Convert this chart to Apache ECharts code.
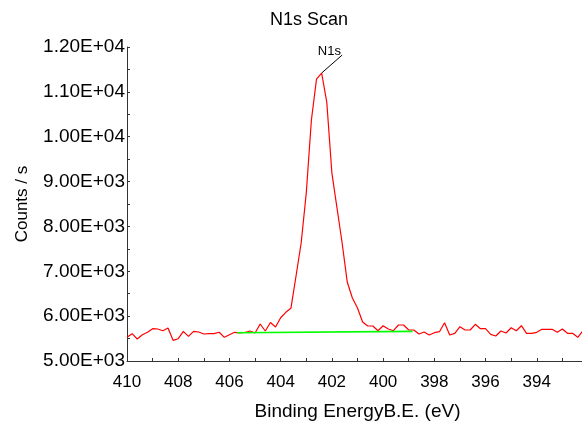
<!DOCTYPE html>
<html>
<head>
<meta charset="utf-8">
<script src="https://cdn.jsdelivr.net/npm/echarts@6/dist/echarts.min.js"></script>
<style>
html,body{margin:0;padding:0;background:#fff;}
#chart{width:582px;height:424px;}
</style>
</head>
<body>
<div id="chart"></div>
<script>
const titleText = 'N1s Scan';
const xAxisName = 'Binding EnergyB.E. (eV)';
const yAxisName = 'Counts / s';
const peakLabel = 'N1s';

const energies = [
  410.0, 409.8, 409.6, 409.4, 409.2, 409.0, 408.8, 408.6, 408.4, 408.2,
  408.0, 407.8, 407.6, 407.4, 407.2, 407.0, 406.8, 406.6, 406.4, 406.2,
  406.0, 405.8, 405.6, 405.4, 405.2, 405.0, 404.8, 404.6, 404.4, 404.2,
  404.0, 403.8, 403.6, 403.4, 403.2, 403.0, 402.8, 402.6, 402.4, 402.2,
  402.0, 401.8, 401.6, 401.4, 401.2, 401.0, 400.8, 400.6, 400.4, 400.2,
  400.0, 399.8, 399.6, 399.4, 399.2, 399.0, 398.8, 398.6, 398.4, 398.2,
  398.0, 397.8, 397.6, 397.4, 397.2, 397.0, 396.8, 396.6, 396.4, 396.2,
  396.0, 395.8, 395.6, 395.4, 395.2, 395.0, 394.8, 394.6, 394.4, 394.2,
  394.0, 393.8, 393.6, 393.4, 393.2, 393.0, 392.8, 392.6, 392.4, 392.2
];
const counts = [
  5528, 5609, 5490, 5586, 5640, 5720, 5713, 5675, 5735, 5461,
  5497, 5662, 5550, 5662, 5646, 5602, 5609, 5609, 5640, 5528,
  5586, 5640, 5624, 5635, 5669, 5624, 5825, 5669, 5858, 5758,
  5965, 6085, 6175, 6895, 7630, 8745, 10372, 11286, 11420, 10773,
  9190, 8410, 7630, 6760, 6404, 6181, 5870, 5780, 5780, 5675,
  5787, 5713, 5675, 5802, 5802, 5691, 5691, 5602, 5646, 5580,
  5631, 5653, 5854, 5580, 5617, 5765, 5691, 5691, 5818, 5720,
  5720, 5595, 5557, 5669, 5624, 5742, 5675, 5787, 5617, 5617,
  5640, 5707, 5707, 5707, 5640, 5713, 5617, 5617, 5528, 5669
];
const backgroundEnergies = [405.7, 398.85];
const backgroundCounts = [5631, 5660];
const peakPoint = [402.4, 11420];
const labelLineEnd = [401.6, 11820];
const labelPoint = [402.1, 11900];

function sci(v) {
  if (v === 0) return '0.00E+00';
  const e = Math.floor(Math.log10(Math.abs(v)) + 1e-9);
  const m = v / Math.pow(10, e);
  return m.toFixed(2) + 'E' + (e >= 0 ? '+' : '-') + String(Math.abs(e)).padStart(2, '0');
}

const chart = echarts.init(document.getElementById('chart'), null, {renderer: 'canvas'});
const font = 'Liberation Sans, Arial, sans-serif';
chart.setOption({
  animation: false,
  backgroundColor: '#ffffff',
  title: {
    text: titleText,
    left: 265,
    top: 6,
    textStyle: {fontFamily: font, fontSize: 18, fontWeight: 'normal', color: '#000'}
  },
  grid: {left: 127, top: 47, width: 461, height: 314, containLabel: false, outerBoundsMode: 'none'},
  xAxis: {
    type: 'value',
    inverse: true,
    min: 392,
    max: 410,
    interval: 1,
    name: xAxisName,
    nameLocation: 'middle',
    nameGap: 41,
    nameTextStyle: {fontFamily: font, fontSize: 19, color: '#000'},
    axisLine: {onZero: false, lineStyle: {color: '#333', width: 1}},
    axisTick: {show: true, inside: true, length: 3, lineStyle: {color: '#333'}},
    axisLabel: {
      fontFamily: font, fontSize: 17, color: '#000', margin: 13,
      formatter: function (v) {
        const r = Math.round(v);
        if (Math.abs(v - r) > 1e-6 || r % 2 !== 0 || r === 392) return '';
        return String(r);
      }
    },
    splitLine: {show: false}
  },
  yAxis: {
    type: 'value',
    min: 5000,
    max: 12000,
    interval: 1000,
    name: yAxisName,
    nameLocation: 'middle',
    nameGap: 96,
    nameTextStyle: {fontFamily: font, fontSize: 17, color: '#000'},
    axisLine: {show: true, lineStyle: {color: '#333', width: 1}},
    axisTick: {show: true, inside: true, length: 3, lineStyle: {color: '#333'}},
    minorTick: {show: true, splitNumber: 2, length: 3, lineStyle: {color: '#333'}},
    axisLabel: {fontFamily: font, fontSize: 19, color: '#000', margin: 2, formatter: sci},
    splitLine: {show: false}
  },
  series: [
    {
      type: 'line',
      data: energies.map((e, i) => [e, counts[i]]),
      showSymbol: false,
      symbol: 'none',
      lineStyle: {color: '#ff0000', width: 1.2},
      z: 2,
      markLine: {
        silent: true,
        symbol: ['none', 'none'],
        label: {show: false},
        lineStyle: {color: '#000', width: 1, type: 'solid'},
        data: [[{coord: peakPoint}, {coord: labelLineEnd}]]
      },
      markPoint: {
        silent: true,
        symbol: 'circle',
        symbolSize: 1,
        itemStyle: {color: 'rgba(0,0,0,0)'},
        label: {show: true, position: 'inside', align: 'center', verticalAlign: 'middle', formatter: peakLabel, fontFamily: font, fontSize: 13, color: '#000'},
        data: [{coord: labelPoint}]
      }
    },
    {
      type: 'line',
      data: backgroundEnergies.map((e, i) => [e, backgroundCounts[i]]),
      showSymbol: false,
      symbol: 'none',
      lineStyle: {color: '#00ff00', width: 1.6},
      z: 3
    }
  ]
});
</script>
</body>
</html>
